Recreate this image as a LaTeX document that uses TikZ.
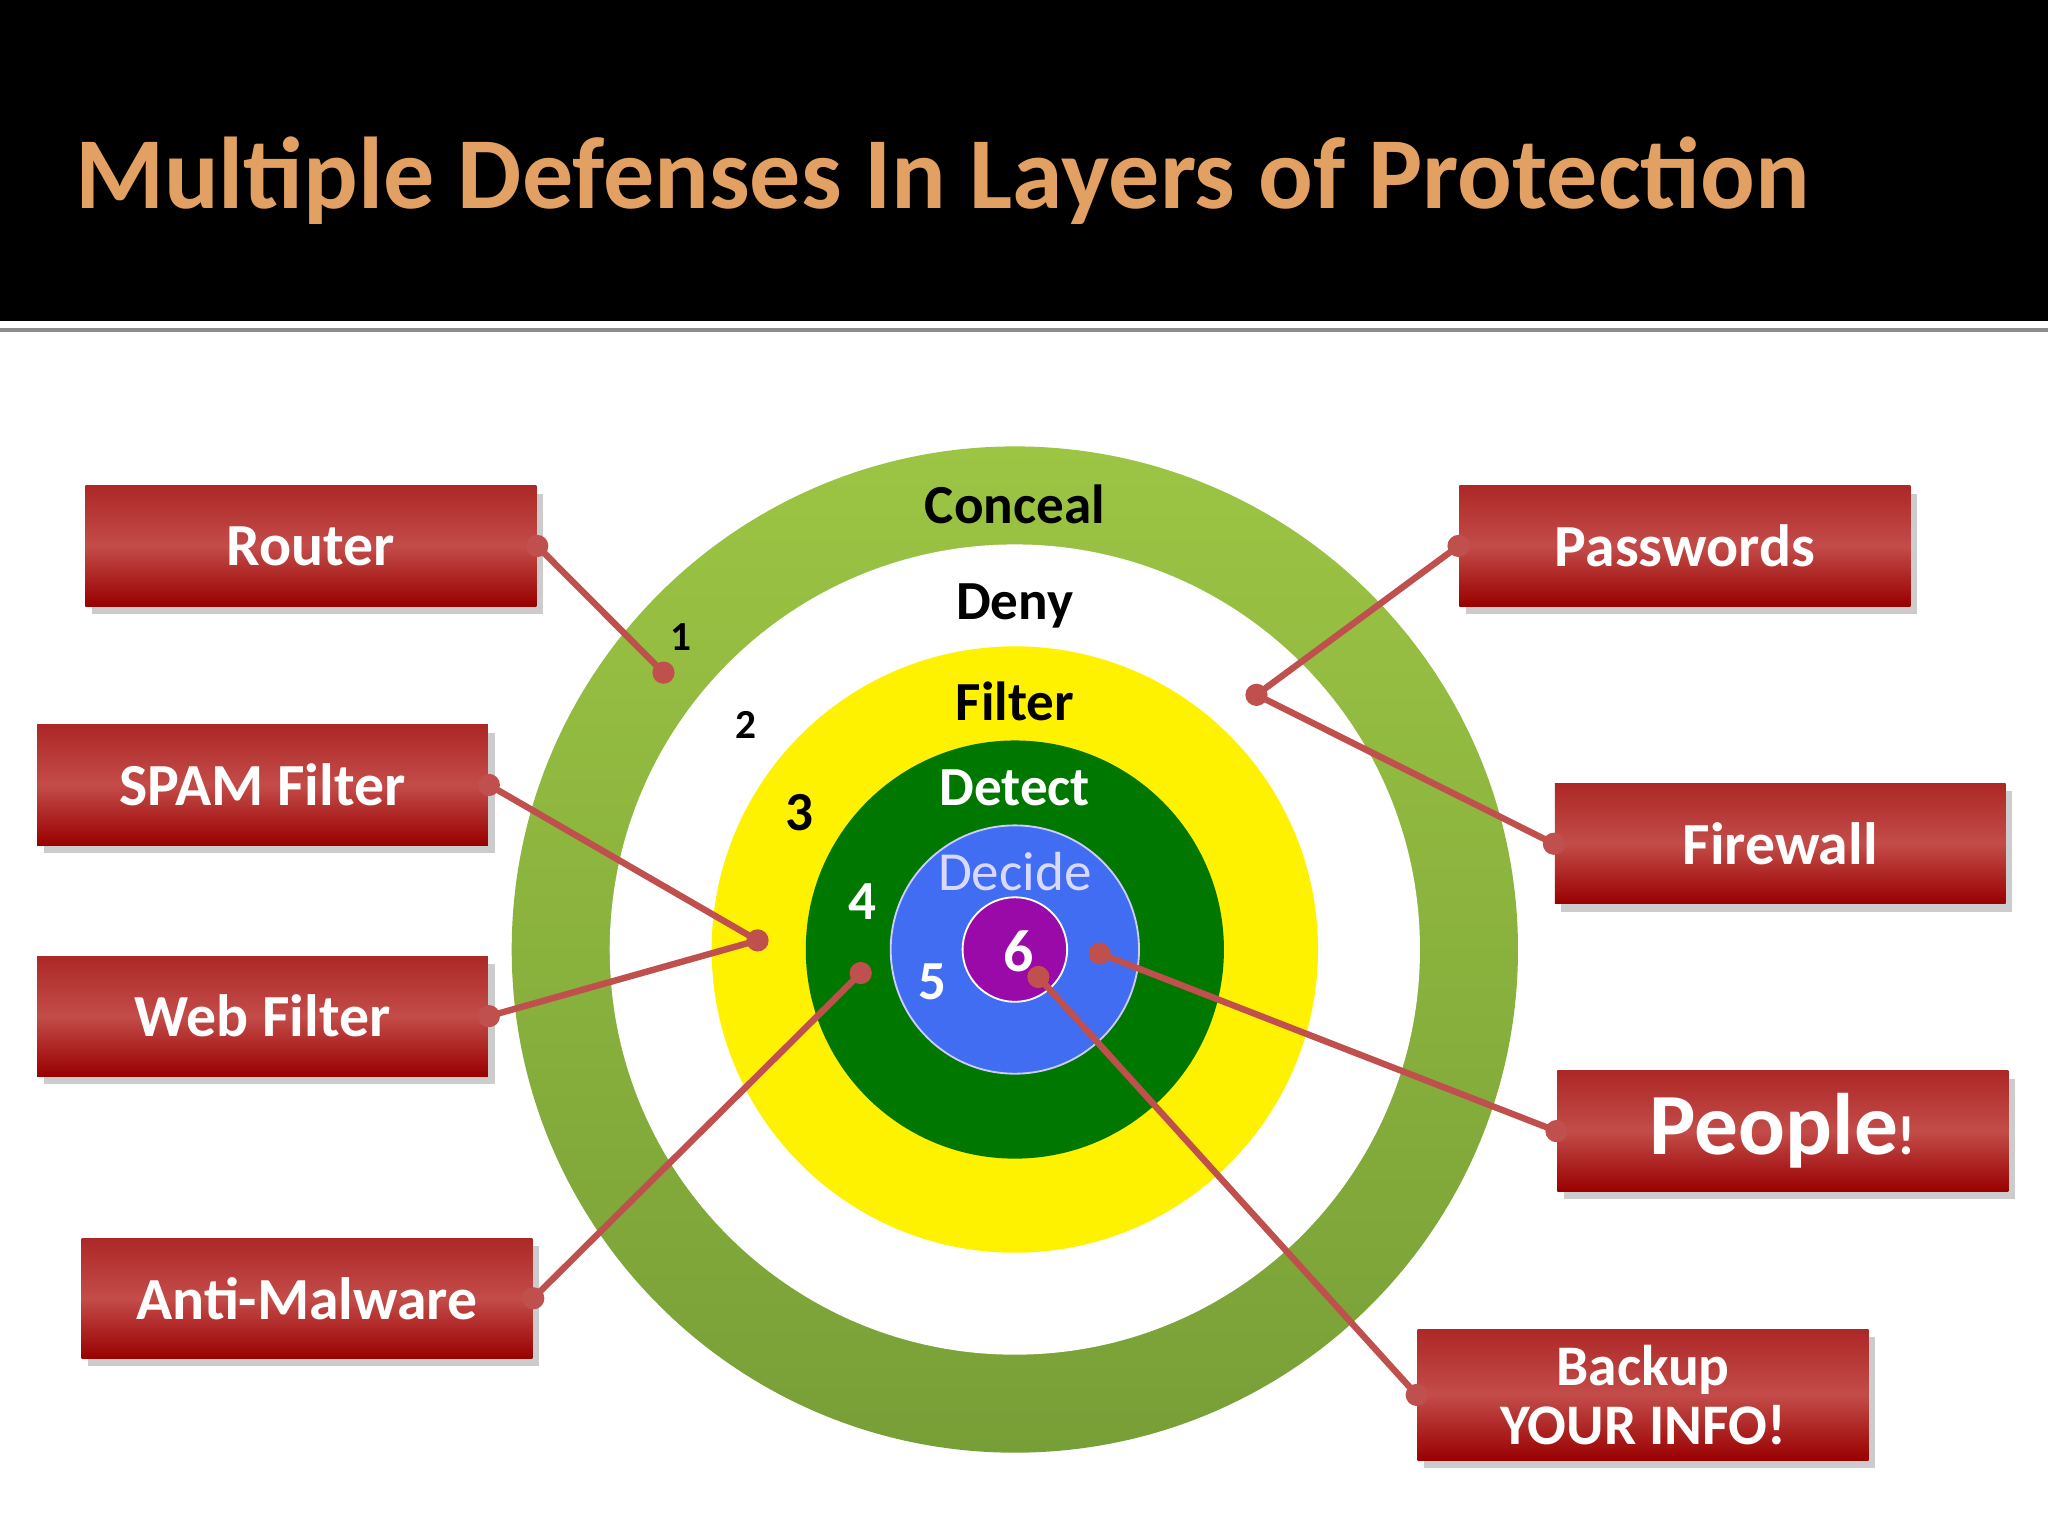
\documentclass[tikz,border=0pt]{standalone}
\usepackage{fontspec}
\setmainfont{Carlito}
\usetikzlibrary{shadows}
\definecolor{lred}{HTML}{C0504D}
\definecolor{gtop}{HTML}{9CC544}
\definecolor{gbot}{HTML}{779F37}
\definecolor{ttl}{HTML}{E3A063}
\definecolor{bl}{HTML}{416DF2}
\definecolor{pur}{HTML}{9A0AA8}
\tikzset{
 box/.style={shade, top color=red!60!black!50!lred, bottom color=red!60!black, middle color=lred!95!red, draw=none,
   minimum width=3.45cm, minimum height=0.92cm, text=white, font=\bfseries\fontsize{13}{15}\selectfont,
   drop shadow={shadow xshift=0.05cm, shadow yshift=-0.06cm, fill=black!40}},
 conn/.style={draw=lred, line width=1.4pt},
 dot/.style={circle, fill=lred, inner sep=0pt, minimum size=0.17cm},
 ring/.style={font=\bfseries\fontsize{12}{14}\selectfont},
 num/.style={font=\bfseries\fontsize{12}{14}\selectfont}
}
\begin{document}
\begin{tikzpicture}[x=0.01cm,y=-0.01cm]
\useasboundingbox (0,0) rectangle (1568,1176);
\fill[black] (0,0) rectangle (1568,246);
\fill[black!45] (0,251) rectangle (1568,254);
\node[anchor=base west, text=ttl, font=\bfseries\fontsize{22.2}{26}\selectfont] (title) at (45,160) {Multiple Defenses In Layers of Protection};
% rings
\coordinate (c) at (777,727);
\shade[top color=gtop, bottom color=gbot] (c) circle[radius=3.85cm];
\fill[white] (c) circle[radius=3.1cm];
\fill[yellow] (c) circle[radius=2.32cm];
\fill[green!47!black] (c) circle[radius=1.6cm];
\draw[fill=bl, draw=white!80!blue, line width=0.4pt] (c) circle[radius=0.95cm];
\draw[fill=pur, draw=white] (c) circle[radius=0.4cm];
\node[ring] (conceal) at (777,386) {Conceal};
\node[ring] (deny) at (777,464) {Deny};
\node[ring] (filter) at (777,537) {Filter};
\node[ring,text=white] (detect) at (777,603) {Detect};
\node[ring,text=white!85!blue,font=\fontsize{12}{14}\selectfont] (decide) at (777,667) {Decide};
\node[num,text=white,font=\bfseries\fontsize{13}{14}\selectfont] (n6) at (780,728) {6};
\node[num,font=\bfseries\fontsize{9}{10}\selectfont] (n1) at (521,488) {1};
\node[num,font=\bfseries\fontsize{9}{10}\selectfont] (n2) at (571,555) {2};
\node[num,font=\bfseries\fontsize{12}{14}\selectfont] (n3) at (612,622) {3};
\node[num,text=white] (n4) at (660,690) {4};
\node[num,text=white] (n5) at (714,752) {5};
% boxes
\node[box] (router) at (238,418) {Router};
\node[box] (spam) at (201,601) {SPAM Filter};
\node[box] (web) at (201,778) {Web Filter};
\node[box] (anti) at (235,994) {Anti-Malware};
\node[box] (pw) at (1290,418) {Passwords};
\node[box] (fw) at (1363,646) {Firewall};
\node[box,font=\bfseries\fontsize{19}{20}\selectfont] (people) at (1365,866) {People\fontsize{12}{14}\selectfont!};
\node[box,align=center,font=\bfseries\fontsize{12.5}{13}\selectfont] (backup) at (1258,1068) {Backup\\YOUR INFO!};
% endpoints
\coordinate (p1) at (508,515);
\coordinate (p2) at (962,532);
\coordinate (p3) at (580,720);
\coordinate (p4) at (659,745);
\coordinate (p5) at (842,730);
\coordinate (p6) at (795,748);
\draw[conn] (router.east) -- (p1);
\draw[conn] (pw.west) -- (p2);
\draw[conn] (fw.west) -- (p2);
\draw[conn] (spam.east) -- (p3);
\draw[conn] (web.east) -- (p3);
\draw[conn] (anti.east) -- (p4);
\draw[conn] (people.west) -- (p5);
\draw[conn] (backup.west) -- (p6);
\foreach \q in {router.east,spam.east,web.east,anti.east,pw.west,fw.west,people.west,backup.west,p1,p2,p3,p4,p5,p6}
  \node[dot] at (\q) {};
\end{tikzpicture}
\end{document}
